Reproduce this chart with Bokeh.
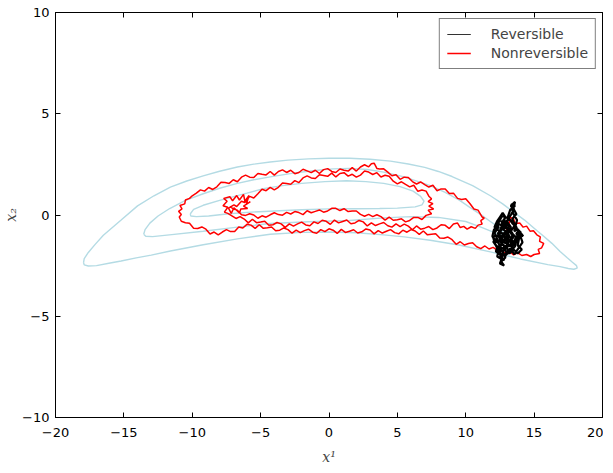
from bokeh.plotting import figure
from bokeh.models import LinearAxis, FixedTicker, Legend, LegendItem, Range1d
from bokeh.embed import file_html
from bokeh.resources import INLINE

# ---------------- data ----------------
x_ticks = [-20, -15, -10, -5, 0, 5, 10, 15, 20]
y_ticks = [-10, -5, 0, 5, 10]
x_tick_labels = ["\u221220", "\u221215", "\u221210", "\u22125", "0", "5", "10", "15", "20"]
y_tick_labels = ["\u221210", "\u22125", "0", "5", "10"]

outer_contour = [(-17.95, -2.35), (-17.9, -2.15), (-17.6, -1.85), (-17.1, -1.45), (-16.5, -1.0),
                 (-15.2, -0.25), (-14.0, 0.45), (-12.8, 0.95), (-11.6, 1.38), (-10.4, 1.68),
                 (-9.2, 1.93), (-8.0, 2.16), (-6.7, 2.37), (-5.5, 2.51), (-4.3, 2.62), (-3.0, 2.71),
                 (-1.5, 2.77), (0.0, 2.8), (1.5, 2.8), (3.0, 2.75), (4.5, 2.66), (5.8, 2.52),
                 (7.0, 2.35), (8.0, 2.15), (9.0, 1.9), (10.5, 1.45), (11.8, 0.95), (12.7, 0.55),
                 (13.5, 0.15), (14.3, -0.25), (15.0, -0.65), (15.7, -1.05), (16.3, -1.4),
                 (16.9, -1.8), (17.4, -2.1), (17.8, -2.33), (18.1, -2.5), (18.15, -2.62),
                 (17.9, -2.68), (17.5, -2.64), (16.9, -2.55), (16.0, -2.45), (14.0, -2.17),
                 (11.8, -1.82), (9.5, -1.48), (7.4, -1.25), (5.5, -1.08), (4.0, -0.98),
                 (2.0, -0.88), (0.0, -0.84), (-2.0, -0.86), (-4.3, -0.95), (-6.7, -1.18),
                 (-9.2, -1.47), (-11.6, -1.78), (-13.0, -1.98), (-14.1, -2.12), (-15.2, -2.27),
                 (-16.0, -2.37), (-17.0, -2.5), (-17.6, -2.52), (-17.9, -2.46), (-17.95, -2.35)]
middle_contour = [(-13.55, -0.95), (-13.45, -0.72), (-13.1, -0.4), (-12.5, -0.05), (-11.65, 0.32),
                  (-10.5, 0.72), (-9.2, 1.05), (-8.0, 1.32), (-6.7, 1.56), (-5.5, 1.74),
                  (-4.3, 1.88), (-2.5, 2.08), (-1.0, 2.2), (0.3, 2.28), (1.5, 2.3), (2.8, 2.25),
                  (4.0, 2.12), (5.5, 1.88), (7.4, 1.45), (8.5, 1.12), (9.5, 0.75), (10.3, 0.38),
                  (11.1, 0.02), (11.8, -0.32), (12.4, -0.6), (12.7, -0.8), (12.6, -0.95),
                  (12.2, -0.9), (11.2, -0.62), (10.0, -0.32), (8.0, -0.12), (6.0, -0.08),
                  (4.0, -0.14), (1.5, -0.27), (-1.5, -0.33), (-4.3, -0.42), (-6.7, -0.6),
                  (-9.2, -0.8), (-11.5, -0.97), (-12.9, -1.07), (-13.4, -1.05), (-13.55, -0.95)]
inner_contour = [(-10.15, 0.05), (-9.9, 0.28), (-9.2, 0.48), (-8.0, 0.72), (-6.0, 1.08),
                 (-4.8, 1.3), (-3.4, 1.45), (-2.0, 1.56), (-0.3, 1.65), (1.3, 1.69), (2.7, 1.65),
                 (4.0, 1.56), (5.2, 1.4), (6.15, 1.18), (6.7, 0.92), (6.95, 0.68), (6.8, 0.5),
                 (6.3, 0.4), (5.0, 0.34), (3.7, 0.32), (1.8, 0.31), (0.0, 0.3), (-2.0, 0.26),
                 (-4.0, 0.2), (-6.0, 0.13), (-7.5, 0.05), (-8.8, -0.05), (-9.7, -0.08),
                 (-10.1, -0.05), (-10.15, 0.05)]

nonreversible_xy = [
    # start in the reversible cluster, loop on the far right
    (12.8, -1.0), (13.0, -0.72), (12.9, -0.52), (13.2, -0.38), (13.25, -0.1), (13.5, -0.2),
    (13.6, -0.42), (13.95, -0.4), (14.2, -0.6), (14.45, -0.55), (14.7, -0.8), (14.95, -0.78),
    (15.2, -0.98), (15.45, -1.08), (15.4, -1.3), (15.7, -1.4), (15.55, -1.62), (15.3, -1.7),
    (15.4, -1.9), (15.0, -1.95), (14.75, -2.05), (14.45, -1.95), (14.1, -2.0), (13.8, -1.86),
    (13.5, -1.97), (13.2, -1.8), (12.9, -1.88), (12.6, -1.76),
    # lowest band, leftwards
    (12.3, -1.73), (12.0, -1.60), (11.7, -1.68), (11.4, -1.53), (11.1, -1.66), (10.8, -1.57),
    (10.5, -1.37), (10.2, -1.41), (9.9, -1.48), (9.6, -1.32), (9.3, -1.45), (9.0, -1.22),
    (8.7, -1.09), (8.4, -1.15), (8.1, -1.14), (7.8, -0.93), (7.5, -0.95), (7.2, -0.98),
    (6.9, -0.79), (6.6, -0.96), (6.3, -0.79), (6.0, -0.72), (5.7, -0.85), (5.4, -0.75),
    (5.1, -0.93), (4.8, -0.87), (4.5, -0.72), (4.2, -0.80), (3.9, -0.89), (3.6, -0.77),
    (3.3, -0.93), (3.0, -0.74), (2.7, -0.69), (2.4, -0.83), (2.1, -0.89), (1.8, -0.73),
    (1.5, -0.80), (1.2, -0.86), (0.9, -0.71), (0.6, -0.91), (0.3, -0.75), (0.0, -0.68),
    (-0.3, -0.82), (-0.6, -0.72), (-0.9, -0.90), (-1.2, -0.85), (-1.5, -0.70), (-1.8, -0.77),
    (-2.1, -0.87), (-2.4, -0.75), (-2.7, -0.90), (-3.0, -0.72), (-3.3, -0.64), (-3.6, -0.75),
    (-3.9, -0.78), (-4.2, -0.59), (-4.5, -0.63), (-4.8, -0.66), (-5.1, -0.48), (-5.4, -0.66),
    (-5.7, -0.50), (-6.0, -0.46), (-6.3, -0.64), (-6.6, -0.59), (-6.9, -0.82), (-7.2, -0.82),
    (-7.5, -0.72), (-7.8, -0.84), (-8.1, -0.98), (-8.4, -0.84), (-8.7, -0.94), (-9.0, -0.70),
    (-9.3, -0.59), (-9.6, -0.67), (-9.9, -0.65), (-10.2, -0.41), (-10.5, -0.38), (-10.8, -0.31),
    (-10.95, -0.10),
    # up the left end and along the top band, rightwards
    (-10.8, 0.02), (-11.0, 0.18), (-10.75, 0.3), (-10.9, 0.47), (-10.55, 0.55), (-10.5, 0.74),
    (-10.2, 0.82), (-10.0, 0.95), (-9.7, 1.08), (-9.4, 1.24), (-9.1, 1.18), (-8.8, 1.36),
    (-8.5, 1.26), (-8.2, 1.39), (-7.9, 1.62), (-7.6, 1.60), (-7.3, 1.56), (-7.0, 1.74),
    (-6.7, 1.64), (-6.4, 1.87), (-6.1, 1.97), (-5.8, 1.87), (-5.5, 1.85), (-5.2, 2.05),
    (-4.9, 2.01), (-4.6, 1.98), (-4.3, 2.15), (-4.0, 1.97), (-3.7, 2.15), (-3.4, 2.23),
    (-3.1, 2.10), (-2.8, 2.21), (-2.5, 2.04), (-2.2, 2.10), (-1.9, 2.26), (-1.6, 2.18),
    (-1.3, 2.09), (-1.0, 2.21), (-0.7, 2.05), (-0.4, 2.24), (-0.1, 2.29), (0.2, 2.15),
    (0.5, 2.10), (0.8, 2.27), (1.1, 2.21), (1.4, 2.17), (1.7, 2.34), (2.0, 2.17), (2.3, 2.37),
    (2.6, 2.48), (2.9, 2.38), (3.1, 2.53), (3.3, 2.56), (3.5, 2.30), (3.7, 2.27), (4.0, 2.28),
    (4.3, 2.12), (4.6, 1.94), (4.9, 1.99), (5.2, 1.76), (5.5, 1.87), (5.8, 1.85), (6.1, 1.65),
    (6.4, 1.53), (6.7, 1.63), (7.0, 1.50), (7.3, 1.38), (7.6, 1.47), (7.9, 1.20), (8.2, 1.29),
    (8.5, 1.28), (8.8, 1.06), (9.1, 1.08), (9.4, 0.82), (9.7, 0.77), (10.0, 0.80), (10.3, 0.57),
    (10.6, 0.30), (10.9, 0.24), (11.2, -0.10), (11.35, -0.15),
    # turn and run back along the lower band
    (11.1, -0.28), (11.2, -0.45), (10.9, -0.5), (10.7, -0.66), (10.4, -0.58), (10.1, -0.7),
    (9.85, -0.56), (9.6, -0.62), (9.4, -0.4), (9.1, -0.44),
    (8.8, -0.67), (8.5, -0.51), (8.2, -0.48), (7.9, -0.64), (7.6, -0.72), (7.3, -0.57),
    (7.0, -0.65), (6.7, -0.70), (6.4, -0.54), (6.1, -0.73), (5.8, -0.55), (5.5, -0.45),
    (5.2, -0.57), (4.9, -0.44), (4.6, -0.60), (4.3, -0.53), (4.0, -0.37), (3.7, -0.44),
    (3.4, -0.52), (3.1, -0.39), (2.8, -0.54), (2.5, -0.34), (2.2, -0.27), (1.9, -0.39),
    (1.6, -0.43), (1.3, -0.25), (1.0, -0.32), (0.7, -0.39), (0.4, -0.25), (0.1, -0.46),
    (-0.2, -0.31), (-0.5, -0.26), (-0.8, -0.42), (-1.1, -0.34), (-1.4, -0.53), (-1.7, -0.49),
    (-2.0, -0.35), (-2.3, -0.44), (-2.6, -0.55), (-2.9, -0.44), (-3.2, -0.61), (-3.5, -0.44),
    (-3.8, -0.37), (-4.1, -0.48), (-4.4, -0.51), (-4.7, -0.31), (-5.0, -0.35), (-5.3, -0.38),
    (-5.6, -0.21), (-5.9, -0.39), (-6.2, -0.20), (-6.5, -0.08), (-6.8, -0.17), (-7.1, -0.04),
    # tangle on the left
    (-7.4, 0.08), (-7.65, 0.14), (-7.4, 0.38), (-7.75, 0.46), (-7.45, 0.68), (-7.7, 0.82),
    (-7.25, 0.9), (-7.05, 0.7), (-6.75, 0.96), (-6.55, 0.74), (-6.25, 1.02), (-6.15, 0.68),
    (-5.85, 0.96), (-6.05, 0.52), (-5.75, 0.66), (-6.25, 0.44), (-5.95, 0.32), (-6.45, 0.3),
    (-6.55, 0.1), (-6.95, 0.36), (-7.15, 0.08), (-7.35, 0.34), (-6.95, 0.5), (-6.75, 0.42),
    (-6.4, 0.68), (-6.15, 0.62), (-5.8, 0.92), (-5.5, 0.84),
    # second upper band, rightwards
    (-5.2, 1.05), (-4.9, 1.27), (-4.6, 1.20), (-4.3, 1.36), (-4.0, 1.24), (-3.7, 1.37),
    (-3.4, 1.58), (-3.1, 1.56), (-2.8, 1.52), (-2.5, 1.70), (-2.2, 1.60), (-1.9, 1.83),
    (-1.6, 1.93), (-1.3, 1.83), (-1.0, 1.80), (-0.7, 1.99), (-0.4, 1.95), (-0.1, 1.91),
    (0.2, 2.07), (0.5, 1.88), (0.8, 2.05), (1.1, 2.09), (1.4, 1.92), (1.7, 2.01), (2.0, 1.87),
    (2.3, 1.97), (2.6, 2.17), (2.9, 2.12), (3.2, 2.00), (3.5, 2.09), (3.8, 1.88), (4.1, 1.96),
    (4.4, 1.91), (4.7, 1.67), (5.0, 1.54), (5.3, 1.64), (5.6, 1.51), (5.9, 1.39), (6.2, 1.47),
    (6.5, 1.17), (6.8, 1.23), (7.1, 1.18), (7.3, 0.93),
    (7.5, 0.8), (7.25, 0.66), (7.6, 0.56), (7.3, 0.44), (7.65, 0.3), (7.25, 0.24), (7.5, 0.06),
    (7.1, -0.02),
    # inner lower band, leftwards
    (6.8, -0.22), (6.5, -0.12), (6.2, -0.12), (5.9, -0.27), (5.6, -0.34), (5.3, -0.19),
    (5.0, -0.23), (4.7, -0.26), (4.4, -0.11), (4.1, -0.25), (3.8, -0.08), (3.5, 0.01),
    (3.2, -0.08), (2.9, 0.03), (2.6, -0.06), (2.3, 0.03), (2.0, 0.20), (1.7, 0.20), (1.4, 0.17),
    (1.1, 0.31), (0.8, 0.22), (0.5, 0.33), (0.2, 0.33), (-0.1, 0.20), (-0.4, 0.14), (-0.7, 0.25),
    (-1.0, 0.18), (-1.3, 0.11), (-1.6, 0.21), (-1.9, 0.02), (-2.2, 0.12), (-2.5, 0.17),
    (-2.8, 0.05), (-3.1, 0.13), (-3.4, -0.01), (-3.7, 0.02), (-4.0, 0.11), (-4.3, 0.01),
    (-4.6, -0.11), (-4.9, -0.04), (-5.2, -0.16), (-5.5, 0.00), (-5.8, 0.06), (-6.1, -0.02),
    (-6.4, 0.01), (-6.7, 0.24), (-7.0, 0.30), (-7.25, 0.42),
]

reversible_xy = [
    (12.8, -1.0), (12.5, -0.8), (12.3, -1.1), (12.1, -0.9), (12.4, -0.6), (12.2, -0.4), (12.6, -0.5),
    (12.8, -0.2), (13.0, -0.5), (12.7, -0.7), (13.1, -0.9), (13.3, -0.6), (13.0, -0.3), (13.3, 0.0),
    (13.5, 0.25), (13.3, 0.45), (13.6, 0.65), (13.5, 0.3), (13.7, 0.05), (13.4, -0.2), (13.6, -0.5),
    (13.3, -0.8), (13.5, -1.1), (13.2, -1.3), (13.6, -1.4), (13.9, -1.2), (13.7, -0.9), (14.0, -0.8),
    (13.8, -1.5), (14.1, -1.7), (13.8, -1.9), (13.5, -1.7), (13.2, -1.9), (13.0, -1.6), (12.7, -1.8),
    (12.9, -2.1), (12.6, -2.3), (12.8, -2.5), (12.5, -2.4), (12.7, -2.0), (12.4, -1.8), (12.2, -1.5),
    (12.0, -1.3), (12.3, -1.3), (12.5, -1.5), (12.8, -1.3), (12.6, -1.1), (12.9, -1.4), (13.1, -1.2),
    (12.9, -0.9), (12.6, -0.9), (12.3, -0.7), (12.1, -0.6), (12.3, -0.3), (12.5, -0.1), (12.7, 0.1),
    (12.9, -0.1), (12.7, -0.4), (12.4, -1.0), (12.2, -1.2), (12.5, -1.3), (12.9, -1.6), (13.3, -1.5),
    (13.4, -1.0), (13.1, -0.7), (12.8, -0.6), (12.6, -0.3), (12.9, -0.4), (13.2, -0.2), (13.4, -0.4),
    (13.7, -0.6), (13.9, -1.0), (13.6, -1.2), (13.4, -1.6), (13.1, -1.8), (12.8, -2.0), (12.6, -1.7),
    (12.4, -1.4), (12.2, -1.0), (12.0, -1.1), (12.15, -1.45), (12.45, -1.65), (12.3, -2.05),
    (12.55, -2.15), (12.45, -1.55), (12.75, -1.45), (12.95, -1.85), (13.25, -1.65), (13.55, -1.95),
    (13.85, -1.65), (14.15, -1.35), (13.95, -0.95), (14.2, -1.05), (13.8, -0.7), (13.55, -0.8),
    (13.75, -0.25), (13.45, 0.1), (13.35, 0.55), (13.6, 0.45), (13.25, 0.25), (13.05, -0.15),
    (12.65, -0.05), (12.35, -0.45), (12.05, -0.75), (11.95, -1.05), (12.25, -1.35), (12.6, -1.25),
    (12.85, -0.85), (13.15, -1.05), (13.45, -1.3), (13.25, -1.55), (12.95, -1.25), (12.75, -0.95),
    (12.45, -1.15), (12.55, -0.65), (12.85, -0.45), (13.15, -0.55), (13.0, -0.85), (13.3, -1.15),
    (13.05, -1.45), (12.75, -1.65), (12.35, -1.55), (12.2, -1.8), (12.5, -1.95), (12.75, -2.25),
    (12.95, -1.95), (13.3, -1.8), (13.6, -1.55), (13.75, -1.15), (13.45, -0.95), (13.2, -0.7),
    (12.95, -0.6), (12.6, -0.75), (12.35, -0.9), (12.6, -1.4), (12.9, -1.15), (13.2, -0.95),
]

# ---------------- figure ----------------
p = figure(width=603, height=467, x_range=Range1d(-20, 20), y_range=Range1d(-10, 10),
           output_backend="svg", toolbar_location=None,
           min_border_left=40, min_border_right=1, min_border_top=12, min_border_bottom=45)
p.grid.visible = False
p.outline_line_color = "black"
p.outline_line_width = 1
p.background_fill_color = "white"
p.border_fill_color = "white"

contour_color = "#b4dbe4"
for c in (outer_contour, middle_contour, inner_contour):
    p.line([q[0] for q in c], [q[1] for q in c], line_color=contour_color, line_width=1.4)

red = p.line([q[0] for q in nonreversible_xy], [q[1] for q in nonreversible_xy],
             line_color="#ff0000", line_width=1.5)
blk = p.line([q[0] for q in reversible_xy], [q[1] for q in reversible_xy],
             line_color="black", line_width=2.2)
# thin swatch used only for the legend entry (draws nothing in the plot)
leg_blk = p.line(x=[float("nan")], y=[float("nan")], line_color="#333333", line_width=1.2)

font = "DejaVu Sans"
def style_axis(ax, labels_on=True):
    ax.axis_line_color = "black"
    ax.major_tick_in = 5
    ax.major_tick_out = 0
    ax.minor_tick_in = 0
    ax.minor_tick_out = 0
    ax.major_tick_line_color = "black"
    ax.major_label_text_font = font
    ax.major_label_text_color = "black"
    if labels_on:
        ax.major_label_text_font_size = "13px"
    else:
        ax.major_label_text_font_size = "0px"
        ax.major_label_standoff = 0

xa = p.xaxis[0]
ya = p.yaxis[0]
xa.ticker = FixedTicker(ticks=x_ticks)
ya.ticker = FixedTicker(ticks=y_ticks)
xa.major_label_overrides = {t: l for t, l in zip(x_ticks, x_tick_labels)}
ya.major_label_overrides = {t: l for t, l in zip(y_ticks, y_tick_labels)}
style_axis(xa)
style_axis(ya)
xa.major_label_standoff = 10
ya.major_label_standoff = 6
xa.axis_label = "x\u00b9"
ya.axis_label = "x\u2082"
for ax in (xa, ya):
    ax.axis_label_text_font = "DejaVu Serif"
    ax.axis_label_text_font_style = "italic"
    ax.axis_label_text_font_size = "14px"
xa.axis_label_standoff = 9
ya.axis_label_standoff = 0

top_ax = LinearAxis(ticker=FixedTicker(ticks=x_ticks))
right_ax = LinearAxis(ticker=FixedTicker(ticks=y_ticks))
style_axis(top_ax, labels_on=False)
style_axis(right_ax, labels_on=False)
top_ax.major_label_overrides = {t: "" for t in x_ticks}
right_ax.major_label_overrides = {t: "" for t in y_ticks}
p.add_layout(top_ax, "above")
p.add_layout(right_ax, "right")

legend = Legend(items=[LegendItem(label="Reversible", renderers=[leg_blk]),
                       LegendItem(label="Nonreversible", renderers=[red])],
                location="top_right")
legend.margin = 6
legend.padding = 7
legend.spacing = 3
legend.label_standoff = 20
legend.glyph_width = 24
legend.glyph_height = 16
legend.label_text_font = font
legend.label_text_font_size = "14px"
legend.border_line_color = "black"
legend.border_line_width = 1
legend.background_fill_alpha = 1
legend.border_radius = 0
p.add_layout(legend, "center")

open("out.html", "w").write(file_html(p, INLINE))
